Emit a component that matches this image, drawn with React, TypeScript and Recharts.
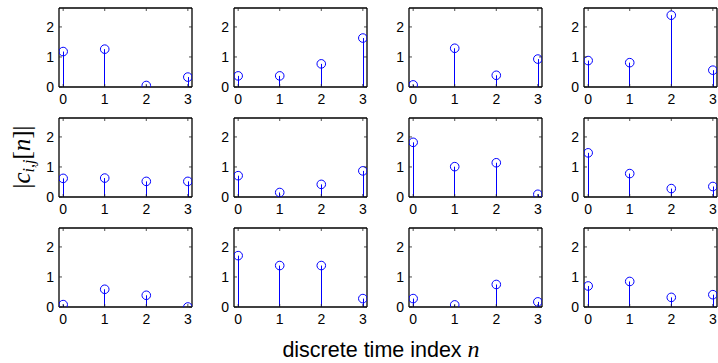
import { ComposedChart, Bar, Scatter, XAxis, YAxis } from "recharts";

const indices = [0, 1, 2, 3];
const xTicks = [0, 1, 2, 3];
const yTicks = [0, 1, 2];

// |c_{i,j}[n]| for each panel, row by row
const row1Values = [
  [1.18, 1.26, 0.05, 0.33],
  [0.37, 0.37, 0.77, 1.63],
  [0.07, 1.29, 0.39, 0.93],
  [0.88, 0.81, 2.39, 0.56],
];
const row2Values = [
  [0.62, 0.63, 0.52, 0.52],
  [0.71, 0.15, 0.42, 0.87],
  [1.82, 1.01, 1.14, 0.09],
  [1.47, 0.78, 0.28, 0.35],
];
const row3Values = [
  [0.08, 0.59, 0.39, 0.0],
  [1.71, 1.38, 1.38, 0.28],
  [0.28, 0.07, 0.75, 0.17],
  [0.7, 0.85, 0.32, 0.41],
];

const rows = [row1Values, row2Values, row3Values];

const BLUE = "#0000ff";
const tickFont = "'Liberation Sans', Arial, Helvetica, sans-serif";

const BottomTick = (props: any) => {
  const { x, y, payload } = props;
  return (
    <g>
      <line x1={x} x2={x} y1={y} y2={y - 3} stroke="#222" strokeWidth={0.8} />
      <text x={x} y={y + 17} textAnchor="middle" fontSize={14} fontFamily={tickFont} fill="#000">
        {payload.value}
      </text>
    </g>
  );
};

const TopTick = (props: any) => {
  const { x, y } = props;
  return <line x1={x} x2={x} y1={y} y2={y + 3} stroke="#222" strokeWidth={0.8} />;
};

const LeftTick = (props: any) => {
  const { x, y, payload } = props;
  return (
    <g>
      <line x1={x} x2={x + 3} y1={y} y2={y} stroke="#222" strokeWidth={0.8} />
      <text x={x - 5} y={y + 5} textAnchor="end" fontSize={14} fontFamily={tickFont} fill="#000">
        {payload.value}
      </text>
    </g>
  );
};

const RightTick = (props: any) => {
  const { x, y } = props;
  return <line x1={x} x2={x - 3} y1={y} y2={y} stroke="#222" strokeWidth={0.8} />;
};

const Marker = (props: any) => {
  const { cx, cy } = props;
  return <circle cx={cx} cy={cy} r={4.3} fill="none" stroke={BLUE} strokeWidth={1} />;
};

const Stem = (props: any) => {
  const { x, y, width, height } = props;
  if (height == null || isNaN(height)) return null;
  const cx = Math.round(x + width / 2) + 0.5;
  return <line x1={cx} x2={cx} y1={y} y2={y + height} stroke={BLUE} strokeWidth={1} />;
};

const Nothing = () => <g />;

const axisLine = { stroke: "#000", strokeWidth: 1.3 };

function StemPanel({ values }: { values: number[] }) {
  const data = indices.map((n, i) => ({ n, v: values[i] }));
  return (
    <ComposedChart width={183} height={109} data={data} margin={{ top: 5, right: 5, left: 0, bottom: 0 }}>
      <XAxis
        dataKey="n"
        type="number"
        domain={[-0.1, 3.1]}
        allowDataOverflow
        ticks={xTicks}
        interval={0}
        height={25}
        tickSize={0}
        tickMargin={0}
        axisLine={axisLine}
        tickLine={false}
        tick={<BottomTick />}
      />
      <XAxis
        xAxisId="top"
        dataKey="n"
        orientation="top"
        mirror
        type="number"
        domain={[-0.1, 3.1]}
        allowDataOverflow
        ticks={xTicks}
        interval={0}
        height={1}
        tickSize={0}
        tickMargin={0}
        axisLine={axisLine}
        tickLine={false}
        tick={<TopTick />}
      />
      <YAxis
        type="number"
        domain={[0, 2.63]}
        allowDataOverflow
        ticks={yTicks}
        interval={0}
        width={45}
        tickSize={0}
        tickMargin={0}
        axisLine={axisLine}
        tickLine={false}
        tick={<LeftTick />}
      />
      <YAxis
        yAxisId="right"
        orientation="right"
        mirror
        type="number"
        domain={[0, 2.63]}
        allowDataOverflow
        ticks={yTicks}
        interval={0}
        width={1}
        tickSize={0}
        tickMargin={0}
        axisLine={axisLine}
        tickLine={false}
        tick={<RightTick />}
      />
      <Bar dataKey="v" barSize={1} shape={<Stem />} isAnimationActive={false} />
      <Scatter dataKey="v" shape={<Marker />} isAnimationActive={false} />
      <Scatter
        dataKey="v"
        xAxisId="top"
        yAxisId="right"
        shape={<Nothing />}
        isAnimationActive={false}
      />
    </ComposedChart>
  );
}

export default function App() {
  return (
    <div
      style={{
        position: "absolute",
        left: 0,
        top: 0,
        width: 718,
        height: 363,
        overflow: "hidden",
        background: "#fff",
      }}
    >
      <svg width={718} height={363} style={{ position: "absolute", left: 0, top: 0 }}>
        <text
          transform="translate(30,157) rotate(-90)"
          textAnchor="middle"
          fontFamily="'Liberation Serif', 'DejaVu Serif', serif"
          fontSize={25}
          fill="#000"
        >
          <tspan>|</tspan>
          <tspan fontStyle="italic">c</tspan>
          <tspan fontStyle="italic" fontSize={16} dy={4}>
            i,j
          </tspan>
          <tspan dy={-4}>[</tspan>
          <tspan fontStyle="italic">n</tspan>
          <tspan>]|</tspan>
        </text>
        <text x={381} y={357} textAnchor="middle" fontFamily={tickFont} fontSize={21.5} fill="#000">
          discrete time index{" "}
          <tspan fontStyle="italic" fontFamily="'Liberation Serif', serif" fontSize={24}>
            n
          </tspan>
        </text>
      </svg>
      {rows.map((row, r) =>
        row.map((values, c) => (
          <div
            key={`${r}-${c}`}
            style={{ position: "absolute", left: 59 + c * 175 - 45, top: 8 + r * 110 - 5 }}
          >
            <StemPanel values={values} />
          </div>
        ))
      )}
    </div>
  );
}
